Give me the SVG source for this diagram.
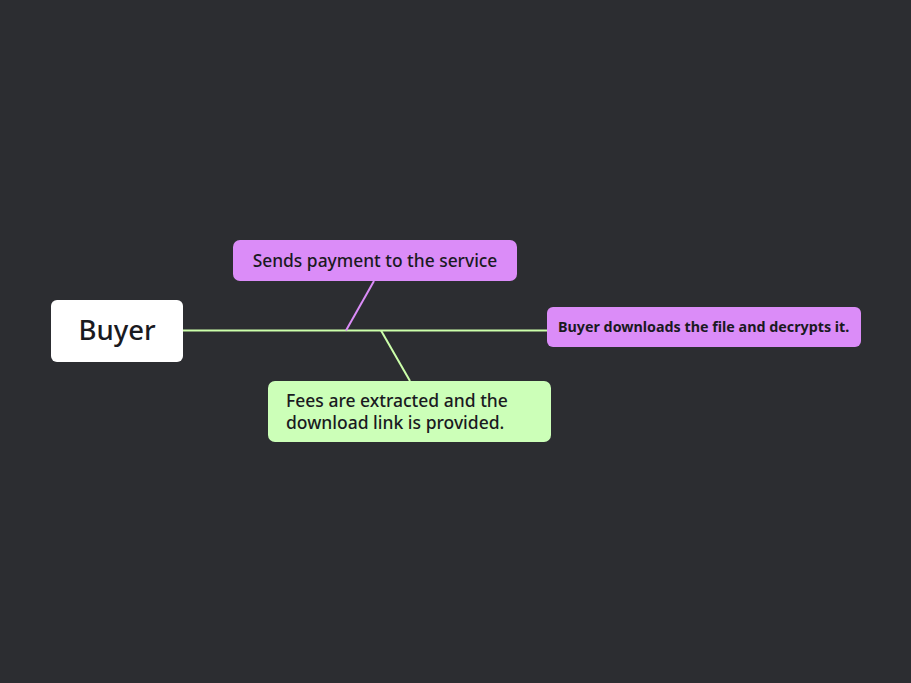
<svg xmlns="http://www.w3.org/2000/svg" width="911" height="683" viewBox="0 0 911 683">
<style>
.t{font-family:"Noto Sans","Open Sans",sans-serif;fill:#1a1a1f;font-weight:500}
</style>
<rect width="911" height="683" fill="#2c2d31"/>
<g id="connectors" fill="none" stroke-width="2">
<line x1="183" y1="330.5" x2="547" y2="330.5" stroke="#ccffaa"/>
<line x1="374" y1="281" x2="346" y2="330.5" stroke="#db8cf8"/>
<line x1="381" y1="330.5" x2="410" y2="381" stroke="#ccffaa"/>
</g>
<g id="buyer">
<rect x="51" y="300" width="132" height="62" rx="6" fill="#ffffff"/>
<text class="t" x="117" y="340" font-size="27.5" text-anchor="middle" fill="#2d2d33">Buyer</text>
</g>
<g id="payment">
<rect x="233" y="240" width="284" height="41" rx="7" fill="#db8cf8"/>
<text class="t" x="375" y="267" font-size="17.4" text-anchor="middle">Sends payment to the service</text>
</g>
<g id="fees">
<rect x="268" y="381" width="283" height="61" rx="7" fill="#ccffb8"/>
<text class="t" x="286" y="407" font-size="17.5">Fees are extracted and the</text>
<text class="t" x="286" y="429" font-size="17.5">download link is provided.</text>
</g>
<g id="download">
<rect x="547" y="307" width="314" height="40" rx="6" fill="#db8cf8"/>
<text class="t" x="558" y="332" font-size="14.3" fill="#2d2a36" style="font-weight:bold">Buyer downloads the file and decrypts it.</text>
</g>
</svg>
